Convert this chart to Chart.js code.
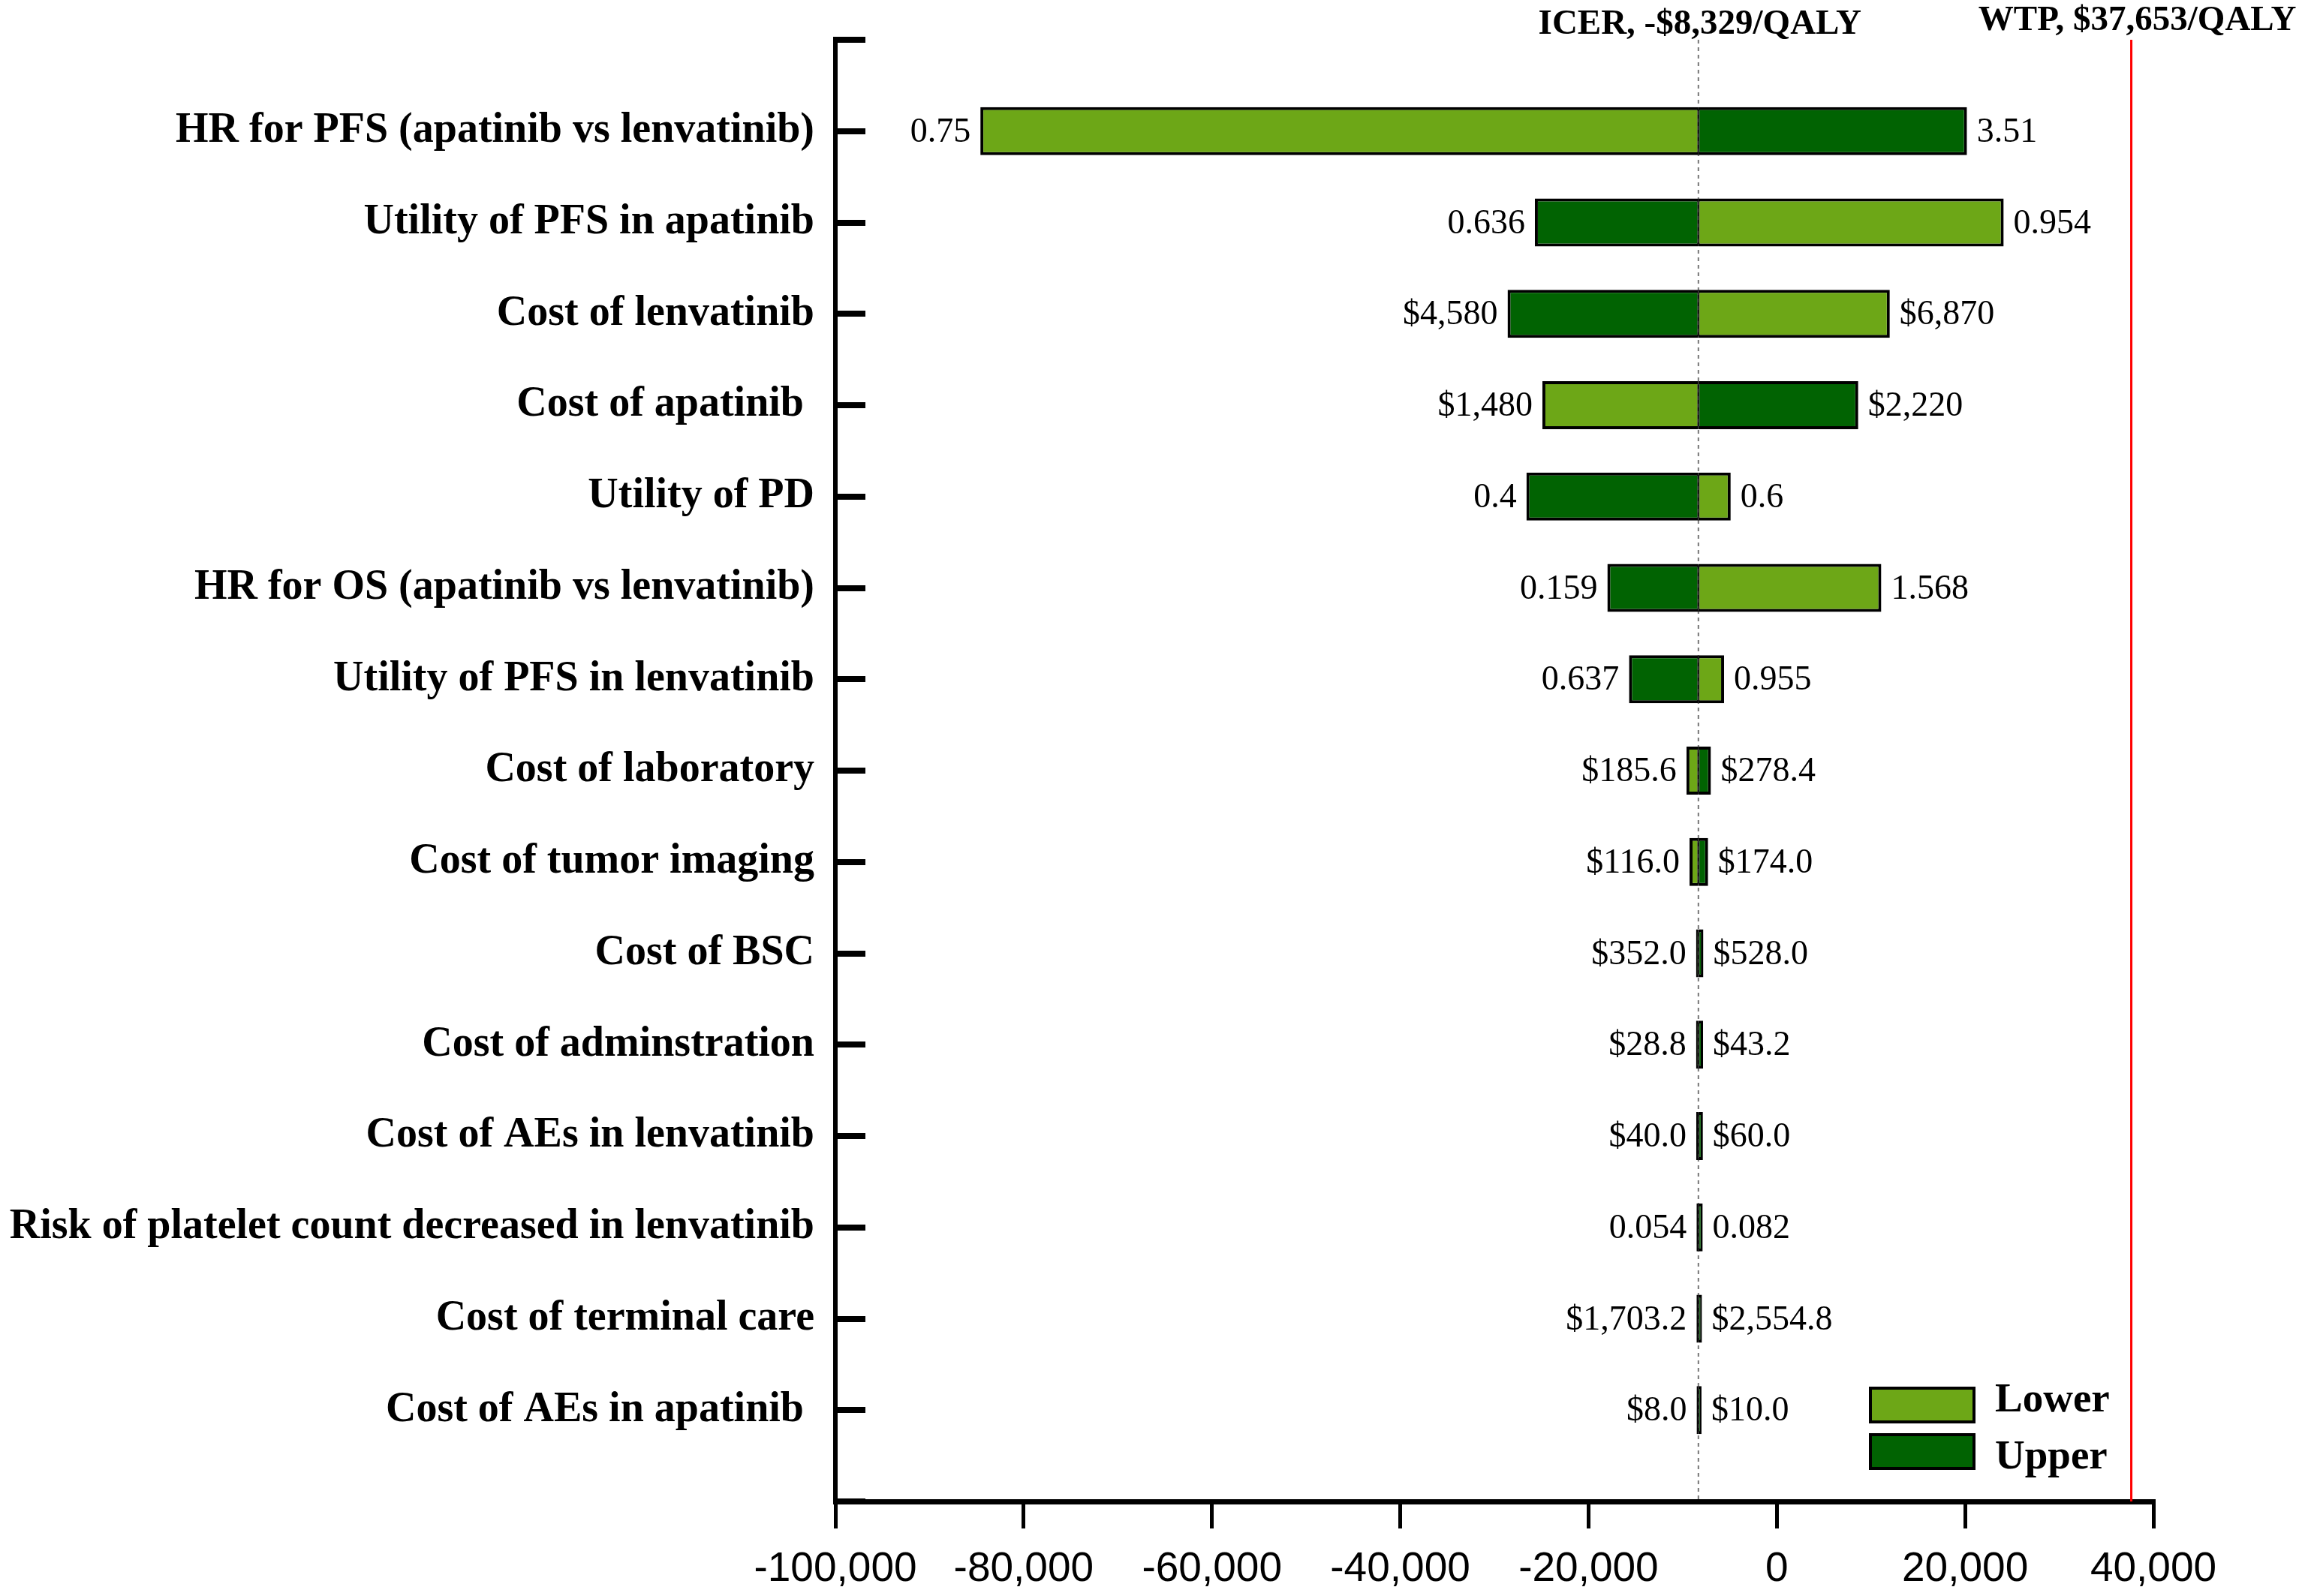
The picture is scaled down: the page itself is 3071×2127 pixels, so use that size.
<!DOCTYPE html>
<html><head><meta charset="utf-8">
<script src="https://cdn.jsdelivr.net/npm/chart.js@4.4.1/dist/chart.umd.min.js"></script>
<style>html,body{margin:0;padding:0;background:#fff;}#wrap{width:3071px;height:2127px;position:relative;}</style>
</head><body><div id="wrap"><canvas id="c"></canvas></div>
<script>
// ---- data ----
const parameters = [
  'HR for PFS (apatinib vs lenvatinib)',
  'Utility of PFS in apatinib',
  'Cost of lenvatinib',
  'Cost of apatinib ',
  'Utility of PD',
  'HR for OS (apatinib vs lenvatinib)',
  'Utility of PFS in lenvatinib',
  'Cost of laboratory',
  'Cost of tumor imaging',
  'Cost of BSC',
  'Cost of adminstration',
  'Cost of AEs in lenvatinib',
  'Risk of platelet count decreased in lenvatinib',
  'Cost of terminal care',
  'Cost of AEs in apatinib '
];
// ICER ($/QALY) when the parameter is at its lower / upper bound
const lowerIcer = [-84600, 24100, 12000, -24900, -4900, 11100, -5600, -9600, -9270, -8580, -8580, -8560, -8530, -8530, -8520];
const upperIcer = [20200, -25700, -28600, 8650, -26600, -18000, -15700, -7000, -7300, -7800, -7830, -7850, -7870, -7950, -8000];
const leftLabels  = ['0.75', '0.636', '$4,580', '$1,480', '0.4', '0.159', '0.637', '$185.6', '$116.0', '$352.0', '$28.8', '$40.0', '0.054', '$1,703.2', '$8.0'];
const rightLabels = ['3.51', '0.954', '$6,870', '$2,220', '0.6', '1.568', '0.955', '$278.4', '$174.0', '$528.0', '$43.2', '$60.0', '0.082', '$2,554.8', '$10.0'];
const baseIcer = -8329;
const wtp = 37653;
const icerTitle = 'ICER, -$8,329/QALY';
const wtpTitle = 'WTP, $37,653/QALY';
const xMin = -100000, xMax = 40000, xStep = 20000;
const seriesNames = ['Lower', 'Upper'];
const seriesColors = ['#6DA717', '#016302'];

// ---- build ----
const labels = ['', ...parameters, ''];
const floatData = arr => [null, ...arr.map(v => [baseIcer, v]), null];

function borderW(ctx) {
  const raw = ctx.raw;
  if (!raw) return 0;
  const outer = 4, inner = 1.5;
  return raw[1] < baseIcer
    ? {left: outer, top: outer, bottom: outer, right: inner}
    : {left: inner, top: outer, bottom: outer, right: outer};
}

const serif = '"Liberation Serif", "Times New Roman", serif';
const sans = '"Liberation Sans", Arial, sans-serif';

const refLines = {
  id: 'refLines',
  beforeDatasetsDraw(chart) {
    const {ctx, chartArea: a, scales: {x}} = chart;
    ctx.save();
    const xi = x.getPixelForValue(baseIcer);
    ctx.strokeStyle = '#777';
    ctx.lineWidth = 2;
    ctx.setLineDash([5, 5]);
    ctx.beginPath(); ctx.moveTo(xi, a.top); ctx.lineTo(xi, a.bottom); ctx.stroke();
    ctx.setLineDash([]);
    const xw = x.getPixelForValue(wtp);
    ctx.strokeStyle = '#ff0000';
    ctx.lineWidth = 3;
    ctx.beginPath(); ctx.moveTo(xw, a.top); ctx.lineTo(xw, a.bottom); ctx.stroke();
    ctx.fillStyle = '#000';
    ctx.font = 'bold 47px ' + serif;
    ctx.textAlign = 'center';
    ctx.textBaseline = 'alphabetic';
    ctx.fillText(icerTitle, xi + 2, a.top - 8);
    ctx.fillText(wtpTitle, xw + 8, a.top - 13);
    ctx.restore();
  }
};

const valueLabels = {
  id: 'valueLabels',
  afterDatasetsDraw(chart) {
    const {ctx, scales: {x, y}} = chart;
    ctx.save();
    ctx.fillStyle = '#000';
    ctx.font = '46px ' + serif;
    ctx.textBaseline = 'middle';
    const gap = 13;
    parameters.forEach((p, i) => {
      const yp = y.getPixelForValue(i + 1) + 2;
      const lo = Math.min(lowerIcer[i], upperIcer[i], baseIcer);
      const hi = Math.max(lowerIcer[i], upperIcer[i], baseIcer);
      ctx.textAlign = 'right';
      ctx.fillText(leftLabels[i], x.getPixelForValue(lo) - gap, yp);
      ctx.textAlign = 'left';
      ctx.fillText(rightLabels[i], x.getPixelForValue(hi) + gap, yp);
    });
    ctx.restore();
  }
};

const boxLegend = {
  id: 'boxLegend',
  afterDraw(chart) {
    const {ctx, chartArea: a} = chart;
    ctx.save();
    const bx = a.right - 379, bw = 142, bh = 49;
    const tops = [a.bottom - 153, a.bottom - 91];
    const bases = [a.bottom - 120, a.bottom - 44];
    chart.data.datasets.forEach((ds, i) => {
      ctx.fillStyle = ds.backgroundColor;
      ctx.fillRect(bx, tops[i], bw, bh);
      ctx.strokeStyle = '#000';
      ctx.lineWidth = 4;
      ctx.strokeRect(bx + 2, tops[i] + 2, bw - 4, bh - 4);
      ctx.fillStyle = '#000';
      ctx.font = 'bold 55px ' + serif;
      ctx.textAlign = 'left';
      ctx.textBaseline = 'alphabetic';
      ctx.fillText(ds.label, bx + 168, bases[i]);
    });
    ctx.restore();
  }
};

new Chart(document.getElementById('c'), {
  type: 'bar',
  data: {
    labels: labels,
    datasets: seriesNames.map((name, k) => ({
      label: name,
      data: floatData(k === 0 ? lowerIcer : upperIcer),
      backgroundColor: seriesColors[k],
      borderColor: '#000',
      borderWidth: borderW,
      borderSkipped: false,
      grouped: false,
      categoryPercentage: 1,
      barPercentage: 0.526
    }))
  },
  options: {
    indexAxis: 'y',
    responsive: true,
    maintainAspectRatio: false,
    devicePixelRatio: 1,
    animation: false,
    layout: {padding: {top: 53, right: 202, bottom: 0, left: 0}},
    plugins: {legend: {display: false}, tooltip: {enabled: false}},
    scales: {
      x: {
        type: 'linear',
        min: xMin, max: xMax,
        afterFit: s => { s.height = 126; },
        ticks: {
          stepSize: xStep,
          color: '#000',
          font: {family: sans, size: 55},
          padding: 22,
          maxRotation: 0,
          callback: v => Number(v).toLocaleString('en-US')
        },
        grid: {drawOnChartArea: false, color: '#000', lineWidth: 5, tickLength: 36},
        border: {display: true, color: '#000', width: 7}
      },
      y: {
        type: 'category',
        offset: false,
        afterFit: s => { s.width = 1113; s.paddingTop = 0; s.paddingBottom = 0; },
        ticks: {
          autoSkip: false,
          color: '#000',
          font: {family: serif, size: 56, weight: 'bold'},
          padding: 68
        },
        grid: {drawOnChartArea: false, offset: false, color: '#000', lineWidth: 8, tickLength: -40},
        border: {display: true, color: '#000', width: 6}
      }
    }
  },
  plugins: [refLines, valueLabels, boxLegend]
});
</script>
</body></html>
